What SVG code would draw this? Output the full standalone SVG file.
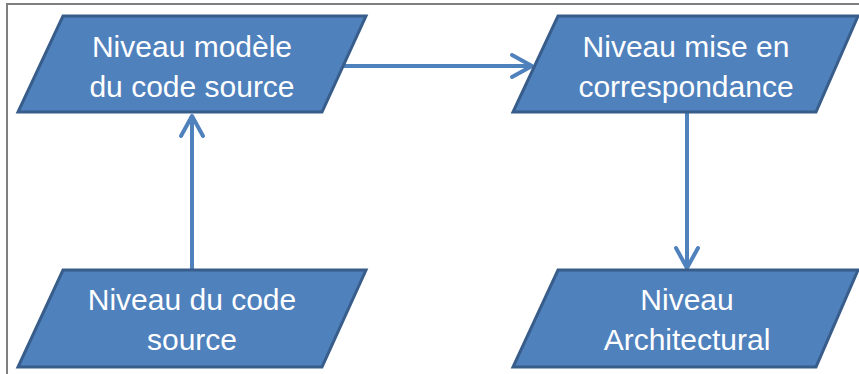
<svg xmlns="http://www.w3.org/2000/svg" width="859" height="374" viewBox="0 0 859 374">
<style>
.node{fill:#4F81BD;stroke:#385D8A;stroke-width:3;stroke-linejoin:miter}
.lbl{font-family:"Liberation Sans",Arial,sans-serif;font-size:30px;fill:#FFFFFF;text-anchor:middle}
.conn{fill:none;stroke:#4F81BD;stroke-width:4}
.head{fill:none;stroke:#4F81BD;stroke-width:4;stroke-linecap:round;stroke-linejoin:round}
.frame{fill:none;stroke:#7F7F7F;stroke-width:2}
</style>
<rect width="859" height="374" fill="#FFFFFF"/>
<path class="frame" d="M7,374 V4 H859"/>
<g id="connectors">
<line class="conn" x1="192" y1="270" x2="192" y2="117"/>
<polyline class="head" points="181,136 192,116 203,136"/>
<line class="conn" x1="343" y1="66" x2="531" y2="66"/>
<polyline class="head" points="512,55 532,66 512,77"/>
<line class="conn" x1="687" y1="112" x2="687" y2="268"/>
<polyline class="head" points="676,248 687,268 698,248"/>
</g>
<g id="node-modele">
<polygon class="node" points="63,16 366,16 322,112 18,112"/>
<text class="lbl" x="192" y="57">Niveau modèle</text>
<text class="lbl" x="192" y="97">du code source</text>
</g>
<g id="node-correspondance">
<polygon class="node" points="558,16 858,16 816,112 513,112"/>
<text class="lbl" x="686" y="57">Niveau mise en</text>
<text class="lbl" x="686" y="97">correspondance</text>
</g>
<g id="node-code-source">
<polygon class="node" points="63,270 366,270 322,367 18,367"/>
<text class="lbl" x="192" y="310">Niveau du code</text>
<text class="lbl" x="192" y="350">source</text>
</g>
<g id="node-architectural">
<polygon class="node" points="558,270 858,270 816,367 513,367"/>
<text class="lbl" x="687" y="310">Niveau</text>
<text class="lbl" x="687" y="350">Architectural</text>
</g>
</svg>
